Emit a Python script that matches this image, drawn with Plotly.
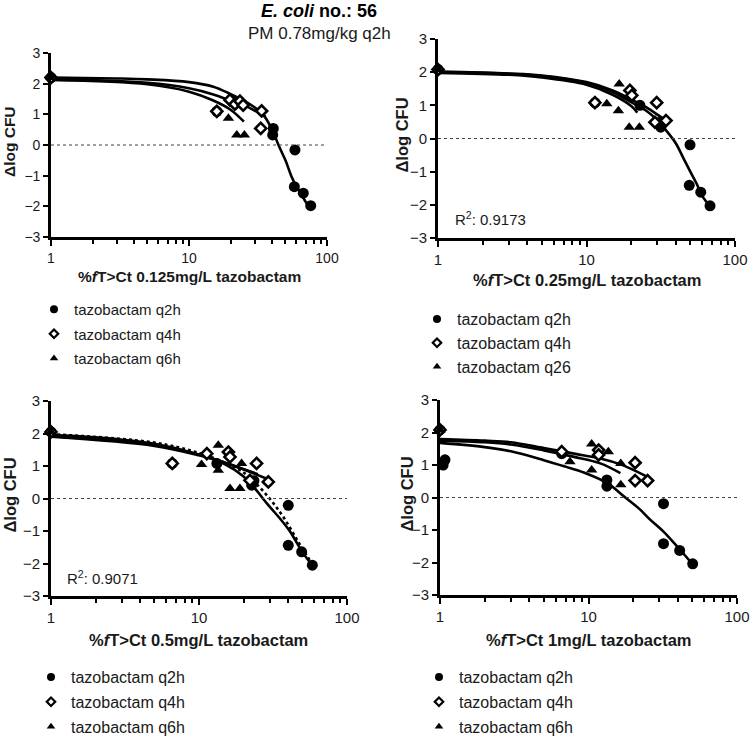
import plotly.graph_objects as go

# ---- data (x = %fT>Ct, y = delta log CFU) ----
# panel 1: 0.125 mg/L
p1_q2h_x = [1, 15.9, 40.8, 40.4, 58.6, 58.0, 67.3, 76.2]
p1_q2h_y = [2.2, 1.1, 0.54, 0.33, -0.16, -1.36, -1.57, -1.98]
p1_q4h_x = [1, 15.9, 19.8, 21.5, 23.4, 24.7, 33.6, 33.1]
p1_q4h_y = [2.2, 1.1, 1.47, 1.33, 1.43, 1.30, 1.11, 0.54]
p1_q6h_x = [1, 19.3, 22.2, 25.2]
p1_q6h_y = [2.2, 0.87, 0.33, 0.33]
p1_fit_q2h_x = [1, 3, 5, 10, 15, 20, 25, 30, 35, 40, 45, 50, 55, 60, 65, 70, 76]
p1_fit_q2h_y = [2.2, 2.17, 2.14, 2.05, 1.9, 1.66, 1.45, 1.22, 0.95, 0.5, -0.05, -0.5, -1.0, -1.35, -1.6, -1.85, -2.05]
p1_fit_q4h_x = [1, 5, 10, 15, 20, 25, 30, 36]
p1_fit_q4h_y = [2.15, 2.03, 1.85, 1.65, 1.45, 1.3, 1.12, 0.92]
p1_fit_q6h_x = [1, 5, 10, 15, 20, 25]
p1_fit_q6h_y = [2.12, 1.98, 1.74, 1.45, 1.15, 0.76]

# panel 2: 0.25 mg/L
p2_q2h_x = [1, 11.4, 22.9, 31.6, 31.6, 49.8, 49.2, 58.8, 67.9]
p2_q2h_y = [2.08, 1.08, 1.0, 0.34, 0.5, -0.19, -1.41, -1.62, -2.03]
p2_q4h_x = [1, 11.4, 19.6, 20.2, 29.7, 28.9, 34.3]
p2_q4h_y = [2.08, 1.08, 1.45, 1.30, 1.08, 0.49, 0.54]
p2_q6h_x = [1, 13.7, 16.6, 16.4, 19.4, 22.7]
p2_q6h_y = [2.08, 1.05, 1.64, 0.84, 0.34, 0.34]
p2_fit_q2h_x = [1, 3, 5, 10, 15, 20, 25, 30, 35, 40, 45, 50, 55, 60, 68]
p2_fit_q2h_y = [2.0, 1.95, 1.88, 1.68, 1.4, 1.1, 0.85, 0.55, 0.2, -0.15, -0.6, -1.0, -1.35, -1.72, -2.05]
p2_fit_q4h_x = [1, 3, 5, 10, 15, 20, 25, 30, 35]
p2_fit_q4h_y = [2.02, 1.96, 1.9, 1.7, 1.45, 1.18, 0.95, 0.72, 0.5]
p2_fit_q6h_x = [1, 3, 5, 10, 15, 20, 22]
p2_fit_q6h_y = [1.98, 1.92, 1.84, 1.62, 1.32, 0.98, 0.78]

# panel 3: 0.5 mg/L
p3_q2h_x = [1, 6.6, 13.2, 22.7, 23.5, 40.1, 40.1, 49.4, 58.3]
p3_q2h_y = [2.05, 1.08, 1.08, 0.41, 0.55, -0.21, -1.44, -1.64, -2.05]
p3_q4h_x = [1, 6.6, 11.3, 15.8, 16.2, 24.5, 22.1, 29.4]
p3_q4h_y = [2.05, 1.08, 1.38, 1.43, 1.28, 1.08, 0.56, 0.51]
p3_q6h_x = [1, 10.4, 13.5, 13.5, 16.2, 18.9, 19.4]
p3_q6h_y = [2.05, 1.05, 1.64, 0.87, 0.31, 0.31, 1.08]
p3_fit_q2h_x = [1, 2, 5, 10, 15, 20, 25, 27, 30, 35, 41, 45, 50, 58]
p3_fit_q2h_y = [1.95, 1.88, 1.68, 1.35, 1.05, 0.68, 0.2, 0.0, -0.25, -0.6, -1.0, -1.3, -1.65, -2.05]
p3_fit_all_x = [1, 5, 10, 15, 20, 25, 30, 35, 40, 45, 50, 58]
p3_fit_all_y = [1.98, 1.72, 1.4, 1.1, 0.8, 0.4, 0.0, -0.4, -0.8, -1.2, -1.55, -2.0]
p3_fit_q4h_x = [1, 5, 10, 15, 20, 25, 29]
p3_fit_q4h_y = [1.92, 1.65, 1.35, 1.1, 0.9, 0.72, 0.6]
p3_fit_q6h_x = [1, 5, 10, 15, 20, 25]
p3_fit_q6h_y = [1.9, 1.62, 1.33, 1.1, 0.9, 0.75]

# panel 4: 1 mg/L
p4_q2h_x = [1, 1.08, 1.05, 6.6, 13.3, 13.3, 32, 32, 41.1, 50.3]
p4_q2h_y = [2.08, 1.16, 1.0, 1.35, 0.54, 0.35, -0.19, -1.42, -1.63, -2.04]
p4_q4h_x = [1, 6.6, 11.7, 11.7, 20.6, 20.6, 25]
p4_q4h_y = [2.08, 1.41, 1.46, 1.31, 1.07, 0.52, 0.52]
p4_q6h_x = [1, 7.5, 10.5, 10.5, 13.6, 16.5, 16.5]
p4_q6h_y = [2.08, 1.1, 1.65, 0.85, 1.41, 1.05, 0.39]
p4_fit_q2h_x = [1, 2, 3, 5, 7, 9.3, 13.3, 17.7, 22, 26, 32, 39.4, 45, 51]
p4_fit_q2h_y = [1.68, 1.55, 1.42, 1.15, 0.95, 0.77, 0.45, 0.0, -0.35, -0.68, -1.05, -1.5, -1.8, -2.1]
p4_fit_q4h_x = [1, 2, 3, 5, 8, 12, 16.4, 20, 25.3]
p4_fit_q4h_y = [1.8, 1.75, 1.7, 1.52, 1.35, 1.2, 1.02, 0.85, 0.62]
p4_fit_q6h_x = [1, 2, 3, 5, 8, 12, 16.4]
p4_fit_q6h_y = [1.75, 1.7, 1.63, 1.45, 1.25, 1.05, 0.75]

x_titles = [
    "<b>%<i>f</i>T>Ct 0.125mg/L tazobactam</b>",
    "<b>%<i>f</i>T>Ct 0.25mg/L tazobactam</b>",
    "<b>%<i>f</i>T>Ct 0.5mg/L tazobactam</b>",
    "<b>%<i>f</i>T>Ct 1mg/L tazobactam</b>",
]
series_names = [
    ["tazobactam q2h", "tazobactam q4h", "tazobactam q6h"],
    ["tazobactam q2h", "tazobactam q4h", "tazobactam q26"],
    ["tazobactam q2h", "tazobactam q4h", "tazobactam q6h"],
    ["tazobactam q2h", "tazobactam q4h", "tazobactam q6h"],
]
r2_texts = [None, "R<sup>2</sup>: 0.9173", "R<sup>2</sup>: 0.9071", None]
x_tickvals = [1, 10, 100]
x_ticktext = ["1", "10", "100"]
x_minor = [2, 3, 4, 5, 6, 7, 8, 9, 20, 30, 40, 50, 60, 70, 80, 90]
y_tickvals = [-3, -2, -1, 0, 1, 2, 3]

W, H = 750, 736
FONT = "Liberation Sans, Arial, sans-serif"
INK = "#1a1a1a"

# plot areas in pixels: (left, right, top, bottom)
boxes = [(51, 327, 53, 237), (438, 735, 39, 238), (51, 347, 401, 596), (440, 737, 400, 595)]
# panel 1 was drawn slightly smaller in the source figure
tick_size = [14, 15, 15, 15]
title_size = [15.5, 16.5, 16.5, 16.5]
legend_size = [15, 16, 16, 16]
legend_gap = [2, 0, 1, 1]
legend_pos = [(34, 293), (417, 302), (31, 660), (419, 660)]
ytitle_x = [9, 402, 9, 406]
r2_pos = [None, (453, 218), (65, 577), None]
xtitle_y = [277, 280, 640, 640]

points = [
    [(p1_q2h_x, p1_q2h_y), (p1_q4h_x, p1_q4h_y), (p1_q6h_x, p1_q6h_y)],
    [(p2_q2h_x, p2_q2h_y), (p2_q4h_x, p2_q4h_y), (p2_q6h_x, p2_q6h_y)],
    [(p3_q2h_x, p3_q2h_y), (p3_q4h_x, p3_q4h_y), (p3_q6h_x, p3_q6h_y)],
    [(p4_q2h_x, p4_q2h_y), (p4_q4h_x, p4_q4h_y), (p4_q6h_x, p4_q6h_y)],
]
fits = [
    [(p1_fit_q2h_x, p1_fit_q2h_y, "solid"), (p1_fit_q4h_x, p1_fit_q4h_y, "solid"),
     (p1_fit_q6h_x, p1_fit_q6h_y, "solid")],
    [(p2_fit_q2h_x, p2_fit_q2h_y, "solid"), (p2_fit_q4h_x, p2_fit_q4h_y, "solid"),
     (p2_fit_q6h_x, p2_fit_q6h_y, "solid")],
    [(p3_fit_all_x, p3_fit_all_y, "dot"), (p3_fit_q2h_x, p3_fit_q2h_y, "solid"),
     (p3_fit_q4h_x, p3_fit_q4h_y, "solid"), (p3_fit_q6h_x, p3_fit_q6h_y, "solid")],
    [(p4_fit_q2h_x, p4_fit_q2h_y, "solid"), (p4_fit_q4h_x, p4_fit_q4h_y, "solid"),
     (p4_fit_q6h_x, p4_fit_q6h_y, "solid")],
]
markers = [
    {"symbol": "circle", "size": 11, "color": "black"},
    {"symbol": "diamond", "size": 8.5, "color": "white", "line": {"width": 2.6, "color": "black"}},
    {"symbol": "triangle-up", "size": 10, "color": "black"},
]
# smaller symbols for the legend keys
legend_markers = [
    {"symbol": "circle", "size": 8, "color": "black"},
    {"symbol": "diamond", "size": 6.5, "color": "white", "line": {"width": 2.2, "color": "black"}},
    {"symbol": "triangle-up", "size": 7.5, "color": "black"},
]


def px_x(v):
    return v / W


def px_y(v):
    return 1 - v / H


fig = go.Figure()
layout = {}
for i, (l, r, t, b) in enumerate(boxes):
    n = "" if i == 0 else str(i + 1)
    xa, ya = "x" + n, "y" + n
    leg = "legend" + n
    for xs, ys, dash in fits[i]:
        fig.add_trace(go.Scatter(
            x=xs, y=ys, mode="lines", xaxis=xa, yaxis=ya, showlegend=False,
            line={"color": "black", "width": 2.6, "dash": dash, "shape": "spline", "smoothing": 1.0},
            hoverinfo="skip",
        ))
    for k, (xs, ys) in enumerate(points[i]):
        fig.add_trace(go.Scatter(
            x=xs, y=ys, mode="markers", xaxis=xa, yaxis=ya, name=series_names[i][k],
            marker=markers[k], cliponaxis=False, showlegend=False,
        ))
        # legend key only (no data)
        fig.add_trace(go.Scatter(
            x=[None], y=[None], mode="markers", xaxis=xa, yaxis=ya, name=series_names[i][k],
            marker=legend_markers[k], legend=leg, legendgroup=f"{i}-{k}",
        ))
    axis_common = {
        "showline": True, "linewidth": 2.6, "linecolor": "black", "showgrid": False,
        "zeroline": False, "ticks": "outside", "tickwidth": 2, "tickcolor": "black",
        "automargin": False,
        "tickfont": {"family": FONT, "size": tick_size[i], "color": INK},
    }
    layout["xaxis" + n] = {
        **axis_common, "type": "log", "range": [0, 2], "anchor": ya,
        "domain": [px_x(l), px_x(r)], "tickvals": x_tickvals, "ticktext": x_ticktext,
        "ticklen": 6,
        "minor": {"tickvals": x_minor, "ticks": "outside", "ticklen": 4, "tickwidth": 2,
                  "tickcolor": "black", "showgrid": False},
    }
    layout["yaxis" + n] = {
        **axis_common, "range": [-3, 3], "anchor": xa, "domain": [px_y(b), px_y(t)],
        "tickvals": y_tickvals, "ticklen": 5,
    }
    lx, ly = legend_pos[i]
    layout[leg] = {
        "x": px_x(lx), "y": px_y(ly), "xanchor": "left", "yanchor": "top",
        "font": {"family": FONT, "size": legend_size[i], "color": INK},
        "bgcolor": "rgba(0,0,0,0)", "tracegroupgap": legend_gap[i], "itemwidth": 30,
    }
    fig.add_shape(type="line", xref=xa, yref=ya, x0=1, x1=100, y0=0, y1=0,
                  line={"color": "#444", "width": 1.2, "dash": "dot"})
    fig.add_annotation(
        text=x_titles[i], xref="paper", yref="paper", x=px_x((l + r) / 2),
        y=px_y(xtitle_y[i]), showarrow=False, xanchor="center", yanchor="middle",
        font={"family": FONT, "size": title_size[i], "color": INK},
    )
    fig.add_annotation(
        text="<b>Δlog CFU</b>", xref="paper", yref="paper", x=px_x(ytitle_x[i]),
        y=px_y((t + b) / 2 - 3), showarrow=False, textangle=-90,
        xanchor="center", yanchor="middle",
        font={"family": FONT, "size": title_size[i], "color": INK},
    )
    if r2_texts[i]:
        rx, ry = r2_pos[i]
        fig.add_annotation(
            text=r2_texts[i], xref="paper", yref="paper", x=px_x(rx), y=px_y(ry),
            xanchor="left", yanchor="middle", showarrow=False,
            font={"family": FONT, "size": 15, "color": INK},
        )

fig.add_annotation(text="<b><i>E. coli</i> no.: 56</b>", xref="paper", yref="paper",
                   x=px_x(319), y=px_y(11), showarrow=False, xanchor="center", yanchor="middle",
                   font={"family": FONT, "size": 18, "color": "black"})
fig.add_annotation(text="PM 0.78mg/kg q2h", xref="paper", yref="paper",
                   x=px_x(319), y=px_y(33), showarrow=False, xanchor="center", yanchor="middle",
                   font={"family": FONT, "size": 17, "color": INK})

fig.update_layout(
    width=W, height=H, margin={"l": 0, "r": 0, "t": 0, "b": 0, "autoexpand": False},
    template="none", paper_bgcolor="white", plot_bgcolor="white", **layout,
)
# drop the browser's default 8px body margin so the figure sits at the page origin
fig.write_html(
    "out.html",
    config={"displayModeBar": False},
    post_script="document.body.style.margin='0px'; document.body.style.overflow='hidden';",
)
